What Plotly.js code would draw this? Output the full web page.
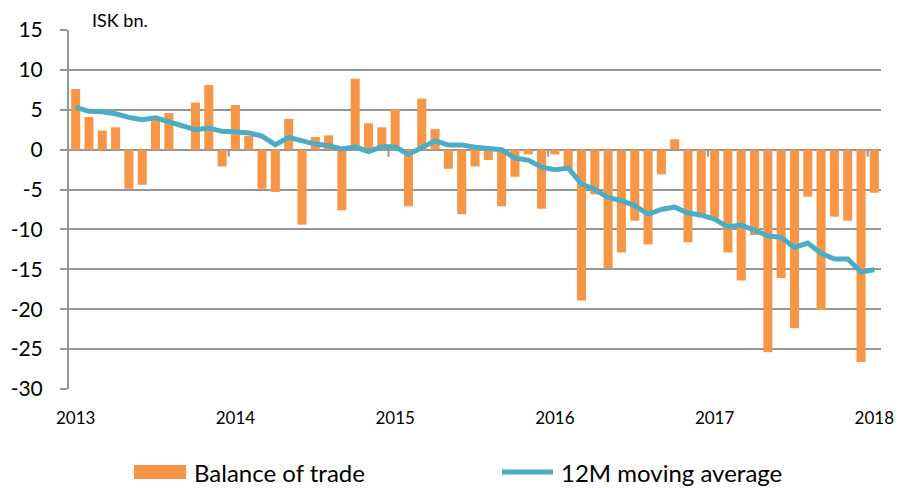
<!DOCTYPE html>
<html>
<head>
<meta charset="utf-8">
<script src="https://cdn.plot.ly/plotly-3.0.1.min.js"></script>
<style>
  html, body { margin: 0; padding: 0; background: #fff; }
  #chart { width: 900px; height: 488px; }
</style>
</head>
<body>
<div id="chart"></div>
<script>
// ---- data ----
const years = ['2013', '2014', '2015', '2016', '2017', '2018'];
const monthNames = ['Jan','Feb','Mar','Apr','May','Jun','Jul','Aug','Sep','Oct','Nov','Dec'];

// Monthly balance of trade, ISK bn. (Jan 2013 - Jan 2018)
const balance = [
  7.6, 4.1, 2.4, 2.8, -4.9, -4.4, 3.8, 4.6, 0.0, 5.9, 8.1, -2.1,
  5.6, 1.7, -4.9, -5.3, 3.85, -9.4, 1.6, 1.8, -7.6, 8.9, 3.3, 2.8,
  5.1, -7.1, 6.4, 2.6, -2.4, -8.1, -2.1, -1.3, -7.1, -3.4, -0.6, -7.4,
  -0.6, -2.5, -18.9, -5.6, -14.9, -12.9, -8.9, -11.9, -3.1, 1.3, -11.6, -8.5,
  -8.6, -12.9, -16.4, -10.7, -25.4, -16.1, -22.4, -5.9, -20.1, -8.4, -8.9, -26.6,
  -5.4
];

// 12M moving average
const movingAvg = [
  5.3, 4.8, 4.75, 4.5, 4.05, 3.75, 4.0, 3.5, 3.0, 2.5, 2.7, 2.3,
  2.25, 2.1, 1.7, 0.6, 1.55, 1.05, 0.7, 0.5, 0.1, 0.35, -0.25, 0.35,
  0.35, -0.6, 0.2, 1.1, 0.6, 0.6, 0.3, 0.1, 0.0, -1.05, -1.3, -2.2,
  -2.5, -2.3, -4.3, -5.0, -6.0, -6.4, -7.0, -8.1, -7.5, -7.2, -7.95, -8.2,
  -8.7, -9.7, -9.45, -10.1, -10.8, -11.0, -12.25, -11.7, -13.0, -13.7, -13.7, -15.3,
  -15.05
];

const yTicks = [15, 10, 5, 0, -5, -10, -15, -20, -25, -30];
const yTickLabels = ['15', '10', '5', '0', '-5', '-10', '-15', '-20', '-25', '-30'];
const seriesNames = ['Balance of trade', '12M moving average'];
const unitLabel = 'ISK bn.';

// categories: one per month
const categories = [];
for (let i = 0; i < balance.length; i++) {
  categories.push(monthNames[i % 12] + ' ' + years[Math.floor(i / 12)]);
}
const yearStartCats = categories.filter(c => c.startsWith('Jan'));
const yearLabels = yearStartCats.map(c => c.split(' ')[1]);

const orange = '#F79646';
const teal = '#4BACC6';
const grid = '#969696';
const FONT = 'Lato, "Open Sans", sans-serif';

const traces = [
  {
    type: 'bar', x: categories, y: balance, name: seriesNames[0],
    marker: { color: orange, line: { width: 0 } },
    width: 0.68, hoverinfo: 'x+y'
  },
  {
    type: 'scatter', mode: 'lines', x: categories, y: movingAvg, name: seriesNames[1],
    line: { color: teal, width: 5, shape: 'linear' }
  }
];

// small tick marks on the zero line between years
const shapes = [];
for (let k = 1; k < yearStartCats.length; k++) {
  const xb = categories.indexOf(yearStartCats[k]) - 0.5;
  shapes.push({
    type: 'line', xref: 'x', yref: 'y', x0: xb, x1: xb,
    ysizemode: 'pixel', yanchor: 0, y0: 0, y1: -7,
    line: { color: grid, width: 2 }
  });
}
// custom legend
const L = 69, R = 881, T = 30, B = 389;
const px = v => (v - L) / (R - L);
const py = v => (B - v) / (B - T);
shapes.push({
  type: 'rect', xref: 'paper', yref: 'paper',
  x0: px(134), x1: px(186), y0: py(479), y1: py(465),
  fillcolor: orange, line: { width: 0 }
});
shapes.push({
  type: 'line', xref: 'paper', yref: 'paper',
  x0: px(502), x1: px(553), y0: py(472), y1: py(472),
  line: { color: teal, width: 5 }
});

const annotations = [
  { xref: 'paper', yref: 'paper', x: px(192), y: py(472), xanchor: 'left', yanchor: 'middle',
    text: seriesNames[0], showarrow: false, font: { family: FONT, size: 24, color: '#000' } },
  { xref: 'paper', yref: 'paper', x: px(559), y: py(472), xanchor: 'left', yanchor: 'middle',
    text: seriesNames[1], showarrow: false, font: { family: FONT, size: 24, color: '#000' } },
  { xref: 'paper', yref: 'paper', x: px(90), y: py(20), xanchor: 'left', yanchor: 'middle',
    text: unitLabel, showarrow: false, font: { family: FONT, size: 18, color: '#000' } }
];

const layout = {
  width: 900, height: 488,
  margin: { l: L, r: 900 - R, t: T, b: 488 - B, pad: 0 },
  paper_bgcolor: '#fff', plot_bgcolor: '#fff',
  showlegend: false,
  font: { family: FONT, color: '#000' },
  bargap: 0.32,
  xaxis: {
    type: 'category', range: [-0.5, categories.length - 0.5],
    tickmode: 'array', tickvals: yearStartCats, ticktext: yearLabels,
    showgrid: false, zeroline: false, showline: false,
    ticks: '', ticklabelstandoff: 17,
    tickfont: { family: FONT, size: 17, color: '#000' }
  },
  yaxis: {
    range: [-30, 15], tickmode: 'array', tickvals: yTicks, ticktext: yTickLabels,
    showgrid: true, gridcolor: grid, gridwidth: 2,
    zeroline: false, showline: true, linecolor: grid, linewidth: 2,
    ticks: 'outside', ticklen: 7, tickwidth: 2, tickcolor: grid,
    ticklabelstandoff: 13,
    tickfont: { family: FONT, size: 21, color: '#000' }
  },
  shapes: shapes,
  annotations: annotations
};

Plotly.newPlot('chart', traces, layout, { displayModeBar: false, staticPlot: true });
</script>
</body>
</html>
